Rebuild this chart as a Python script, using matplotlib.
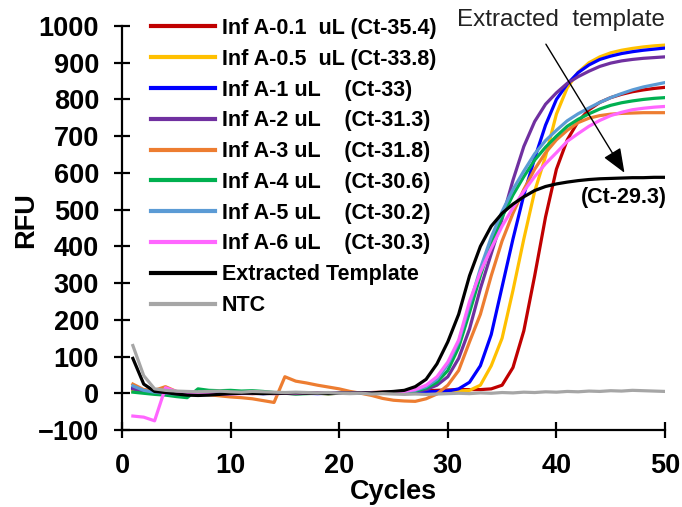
import matplotlib
matplotlib.use("Agg")
import matplotlib.pyplot as plt
import numpy as np

plt.rcParams['font.family'] = ['Liberation Sans', 'DejaVu Sans']

cycles = list(range(1, 51))

inf_01 = [12, 6, 3, 2, 0, -2, -3, -2, 0, 1,
          0, -1, 0, 1, 0, -1, 0, 1, 0, 0,
          1, 0, 2, 3, 4, 5, 6, 7, 8, 9,
          10, 10, 10, 12, 22, 70, 170, 320, 480, 610,
          690, 740, 772, 792, 805, 814, 821, 826, 830, 833]
inf_05 = [5, 3, 2, 1, 0, -2, -3, -2, -1, 0,
          0, 1, 0, -1, 0, 0, 1, 0, -1, 0,
          0, 1, 1, 2, 2, 3, 3, 4, 4, 5,
          6, 8, 22, 75, 150, 280, 420, 550, 645, 760,
          832, 874, 900, 916, 927, 934, 939, 943, 946, 948]
inf_1 = [15, 6, 2, 0, -2, -3, -3, -2, -1, 0,
         0, 0, -1, 0, 1, 0, 0, -1, 0, 0,
         0, 1, 1, 2, 2, 3, 3, 4, 5, 6,
         12, 30, 75, 160, 290, 420, 540, 640, 730, 800,
         842, 873, 894, 909, 918, 925, 930, 934, 937, 940]
inf_2 = [12, 5, 2, 0, -1, -2, -3, -2, -1, 0,
         0, 0, 1, 0, 0, -1, 0, 0, 1, 0,
         0, 0, 1, 1, 2, 3, 5, 10, 22, 45,
         95, 175, 285, 380, 475, 580, 672, 740, 787, 818,
         844, 862, 877, 890, 899, 905, 909, 912, 914, 916]
inf_3 = [25, 10, 8, 18, 5, 0, -2, -4, -7, -10,
         -12, -15, -20, -25, 45, 33, 28, 22, 17, 12,
         5, 0, -6, -14, -19, -21, -22, -15, -2, 22,
         62, 140, 215, 320, 415, 490, 555, 610, 655, 690,
         716, 737, 749, 756, 760, 762, 763, 764, 764, 764]
inf_4 = [3, 0, -3, -5, -9, -12, 12, 8, 7, 8,
         6, 7, 5, 2, 0, -2, -1, 0, -1, 0,
         0, 0, 1, 2, 3, 4, 6, 14, 30, 62,
         125, 220, 320, 410, 480, 540, 590, 635, 670, 700,
         727, 746, 761, 774, 784, 791, 796, 800, 803, 805]
inf_5 = [20, 8, 3, 0, -2, -3, -4, -3, -2, -1,
         0, 0, 0, -1, 0, 0, 1, 0, 0, 0,
         0, 1, 1, 2, 3, 4, 8, 18, 38, 78,
         140, 240, 340, 425, 495, 555, 605, 652, 688, 716,
         742, 761, 777, 792, 805, 816, 826, 834, 840, 846]
inf_6 = [-62, -65, -75, 15, 5, 2, 0, -2, -3, -2,
         -1, 0, 0, -1, 0, 0, 0, 1, 0, 0,
         0, 1, 1, 2, 3, 5, 10, 22, 45, 85,
         145, 250, 330, 395, 455, 505, 550, 590, 625, 655,
         686, 707, 727, 743, 756, 765, 772, 776, 779, 781]
extracted = [95, 25, 5, 2, -2, -5, -6, -5, -3, -1,
             0, 0, -1, 0, 0, 1, 0, 0, -1, 0,
             0, 1, 1, 3, 5, 8, 18, 38, 80, 140,
             215, 320, 400, 455, 490, 515, 535, 552, 563, 570,
             575, 579, 582, 584, 585, 586, 587, 587, 588, 588]
ntc = [130, 48, 12, 8, 6, 5, 4, 5, 6, 4,
       3, 5, 4, 3, 2, 3, 2, 1, 2, 0,
       -1, 0, -2, -1, -2, -3, -2, -3, -2, -1,
       0, -1, 1, 0, 2, 1, 3, 2, 4, 3,
       5, 4, 6, 5, 7, 6, 8, 7, 6, 5]

series = [inf_01, inf_05, inf_1, inf_2, inf_3, inf_4, inf_5, inf_6, extracted, ntc]
labels = ["Inf A-0.1  uL (Ct-35.4)", "Inf A-0.5  uL (Ct-33.8)",
          "Inf A-1 uL    (Ct-33)", "Inf A-2 uL    (Ct-31.3)",
          "Inf A-3 uL    (Ct-31.8)", "Inf A-4 uL    (Ct-30.6)",
          "Inf A-5 uL    (Ct-30.2)", "Inf A-6 uL    (Ct-30.3)",
          "Extracted Template", "NTC"]
colors = ["#C00000", "#FFC000", "#0000FF", "#7030A0", "#ED7D31",
          "#00B050", "#5B9BD5", "#FF66FF", "#000000", "#A6A6A6"]

fig = plt.figure(figsize=(6.82, 5.07), dpi=100)
ax = fig.add_axes([122/682, 77/507, 543/682, 404/507])

for y, lab, c in zip(series, labels, colors):
    ax.plot(cycles, y, color=c, lw=2.3, label=lab)

ax.set_xlim(0, 50)
ax.set_ylim(-100, 1000)
ax.set_xticks(range(0, 51, 10))
ax.set_yticks(range(-100, 1001, 100))
for s in ["top", "right"]:
    ax.spines[s].set_visible(False)
for s in ["left", "bottom"]:
    ax.spines[s].set_linewidth(1.6)
ax.tick_params(direction="inout", length=11, width=1.6, labelsize=19.5, pad=11)
for t in ax.get_xticklabels() + ax.get_yticklabels():
    t.set_fontweight("bold")

ax.set_xlabel("Cycles", fontsize=19.5, fontweight="bold", labelpad=0)
ax.set_ylabel("RFU", fontsize=19.5, fontweight="bold")
ax.yaxis.set_label_coords(-0.152, 0.52)

leg = ax.legend(loc="upper left", bbox_to_anchor=(0.053, 1.02), frameon=False,
                prop={"weight": "bold", "size": 15.5}, handlelength=3.0,
                handletextpad=0.3, labelspacing=0.455, borderpad=0, borderaxespad=0)
for ln in leg.get_lines():
    ln.set_linewidth(3)

ax.annotate("", xy=(46.4, 594), xytext=(38.9, 957),
            arrowprops=dict(arrowstyle="-|>,head_length=1.5,head_width=0.6",
                            color="black", lw=1.0))
ax.text(40.4, 1016, "Extracted  template", fontsize=17.4, ha="center", va="center",
        color="#222222", clip_on=False)
ax.text(50.2, 532, "(Ct-29.3)", fontsize=15.5, fontweight="bold", ha="right",
        va="center", clip_on=False)

fig.savefig("out.png", dpi=100)
